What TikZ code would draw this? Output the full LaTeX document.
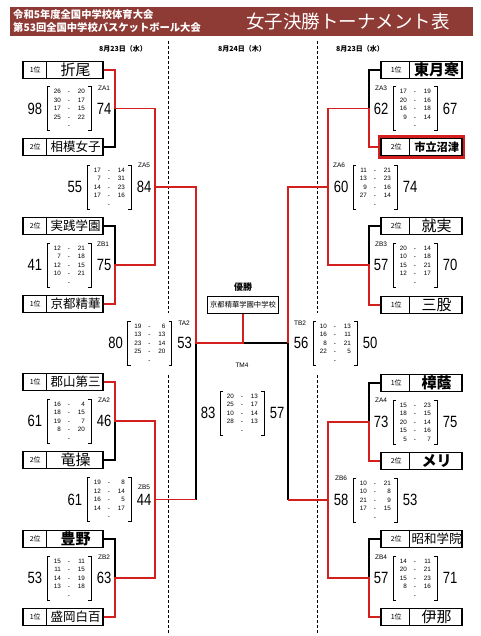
\documentclass[tikz,border=0pt]{standalone}
\usepackage{fontspec}
\setmainfont{Liberation Sans}
\newfontfamily\jp{Noto Sans CJK JP}
\usepackage{graphicx}
\usetikzlibrary{positioning,fit}
\definecolor{hdrred}{HTML}{8E3A35}
\definecolor{winred}{HTML}{D3201F}

\newcommand\namebig{\fontsize{15}{15}\selectfont}
\newcommand\namemid{\fontsize{11.2}{11.2}\selectfont}
\newcommand\namesmall{\fontsize{12.5}{12.5}\selectfont}

% team box, left column: name, y, rank, label
\newcommand\teamL[4]{%
  \node[teambox,minimum width=80pt] (#1) at (63,#2) {};
  \draw[boxline] ([xshift=24pt]#1.north west) -- ([xshift=24pt]#1.south west);
  \node[rankcell] (#1-rk) at ([xshift=13pt]#1.west) {#3};
  \node[teamname] (#1-nm) at ([xshift=-28pt]#1.east) {#4};
}
% team box, right column
\newcommand\teamR[4]{%
  \node[teambox,minimum width=81pt] (#1) at (421.5,#2) {};
  \draw[boxline] ([xshift=29pt]#1.north west) -- ([xshift=29pt]#1.south west);
  \node[rankcell] (#1-rk) at ([xshift=16pt]#1.west) {#3};
  \node[teamname] (#1-nm) at ([xshift=-26pt]#1.east) {#4};
}
% score block: name, x, y, left, right, periods
\newcommand\scoreset[6]{%
  \coordinate (#1) at (#2,#3);
  \draw[brkline] (#2-19,#3-22) -| (#2-22,#3+22) -- (#2-19,#3+22);
  \draw[brkline] (#2+19,#3-22) -| (#2+22,#3+22) -- (#2+19,#3+22);
  \node[bigscore] (#1-l) at (#2-34,#3) {\scalebox{0.8}[1]{#4}};
  \node[bigscore] (#1-r) at (#2+35,#3) {\scalebox{0.8}[1]{#5}};
  \foreach \a/\b [count=\i] in {#6} {
    \node[perscore,anchor=east] (#1-a\i) at (#2-8,#3-25.5+8.5*\i) {\a};
    \node[perscore] (#1-d\i) at (#2,#3-25.5+8.5*\i) {-};
    \node[perscore,anchor=east] (#1-b\i) at (#2+16,#3-25.5+8.5*\i) {\b};
  }
}

\begin{document}
\begin{tikzpicture}[x=1pt,y=-1pt,line join=miter]
\tikzset{teambox/.style={draw,line width=1.4pt,minimum height=17pt,inner sep=0pt},
  boxline/.style={line width=0.9pt},
  rankcell/.style={font=\jp\fontsize{7}{7}\selectfont,inner sep=0pt},
  teamname/.style={font=\jp,inner sep=0pt},
  bigscore/.style={font=\fontsize{16.3}{16}\selectfont,inner sep=0pt,text height=11.7pt,text depth=0pt},
  perscore/.style={font=\fontsize{6.3}{6}\selectfont,inner sep=0pt,text height=4.5pt,text depth=0pt},
  matchtag/.style={font=\fontsize{6.5}{6}\selectfont,inner sep=0pt},
  brkline/.style={line width=0.75pt},
  winline/.style={winred,line width=1.3pt},
  loseline/.style={black,line width=1.3pt},
  daysep/.style={line width=0.6pt,dash pattern=on 3pt off 2pt},
  hdrtxt/.style={font=\jp\bfseries\fontsize{10.3}{10.3}\selectfont,text=white,inner sep=0pt,anchor=west},
  datetxt/.style={font=\jp\bfseries\fontsize{7}{7}\selectfont,inner sep=0pt},
  champbox/.style={draw,line width=1pt,font=\jp\fontsize{7.3}{7.3}\selectfont,minimum width=71pt,minimum height=17pt,inner sep=0pt}}
\useasboundingbox (0,0) rectangle (480,636);

% header
\fill[hdrred] (10,7) rectangle (473,36);
\node[hdrtxt] (hdr1) at (13,15) {令和5年度全国中学校体育大会};
\node[hdrtxt] (hdr2) at (13,28) {第53回全国中学校バスケットボール大会};
\node[font=\jp\fontsize{18.5}{18.5}\selectfont,text=white,inner sep=0pt] (title) at (348,22) {女子決勝トーナメント表};

% days
\node[datetxt] (day1) at (123,49) {8月23日（水）};
\node[datetxt] (day2) at (242,49) {8月24日（木）};
\node[datetxt] (day3) at (360,49) {8月23日（水）};
\draw[daysep] (168,41) -- (168,313) (168,375) -- (168,634);
\draw[daysep] (317,41) -- (317,313) (317,375) -- (317,634);

% teams
\teamL{orio}{70}{1位}{\namebig 折尾}
\teamL{sagami}{147}{2位}{\namesmall 相模女子}
\teamL{jissen}{226}{2位}{\namesmall 実践学園}
\teamL{kyoto}{304}{1位}{\namesmall 京都精華}
\teamL{koriyama}{382}{1位}{\namesmall 郡山第三}
\teamL{ryuso}{460}{2位}{\namebig 竜操}
\teamL{toyono}{539}{2位}{\namebig\bfseries 豊野}
\teamL{morioka}{617}{1位}{\namesmall 盛岡白百}
\teamR{higashi}{70}{1位}{\namebig\bfseries 東月寒}
\teamR{numazu}{147}{2位}{\namemid\bfseries 市立沼津}
\teamR{shujitsu}{226}{2位}{\namebig 就実}
\teamR{mimata}{305}{1位}{\namebig 三股}
\teamR{shoin}{383}{1位}{\namebig\bfseries 樟蔭}
\teamR{meri}{461}{2位}{\namebig\bfseries メリ}
\teamR{showa}{539}{2位}{\namesmall 昭和学院}
\teamR{ina}{617}{1位}{\namebig 伊那}
\node[fit=(numazu),draw=winred,line width=2.4pt,inner sep=1.4pt] (numazuhl) {};

% champion
\node[champbox] (champ) at (243,304.5) {京都精華学園中学校};
\node[font=\jp\bfseries\fontsize{9}{9}\selectfont,inner sep=0pt,above=4pt of champ] (yusho) {優勝};

% match points
\coordinate (za1) at (115,108.5);
\coordinate (zb1) at (115,265);
\coordinate (za2) at (115,421);
\coordinate (zb2) at (115,578);
\coordinate (za5) at (155,187);
\coordinate (zb5) at (155,499.5);
\coordinate (ta2) at (196,343);
\coordinate (fin) at (243,343);
\coordinate (tb2) at (288,343);
\coordinate (za3) at (369,108.5);
\coordinate (zb3) at (369,265);
\coordinate (za4) at (369,422);
\coordinate (zb4) at (369,578);
\coordinate (za6) at (328,187);
\coordinate (zb6) at (328,500);

% losers
\draw[loseline] (sagami.east) -| (za1);
\draw[loseline] (jissen.east) -| (zb1);
\draw[loseline] (ryuso.east) -| (za2);
\draw[loseline] (toyono.east) -| (zb2);
\draw[loseline] (zb5 -| ta2) -- (ta2);
\draw[loseline] (fin) -- (tb2);
\draw[loseline] (higashi.west) -| (za3);
\draw[loseline] (shujitsu.west) -| (zb3);
\draw[loseline] (shoin.west) -| (za4);
\draw[loseline] (showa.west) -| (zb4);
\draw[loseline] (zb6 -| tb2) -- (tb2);
% winners
\draw[winline] (orio.east) -| (za1) -- (za1 -| za5) -- (zb1 -| za5) -- (zb1) |- (kyoto.east);
\draw[winline] (koriyama.east) -| (za2) -- (za2 -| zb5) -- (zb2 -| zb5) -- (zb2) |- (morioka.east);
\draw[winline] (za5) -- (za5 -| ta2) -- (ta2) -- (fin) -- (champ.south);
\draw[winline] (zb5) -- (zb5 -| ta2);
\draw[winline] (numazu.west) -| (za3) -- (za3 -| za6) -- (zb3 -| za6) -- (zb3) |- (mimata.west);
\draw[winline] (meri.west) -| (za4) -- (za4 -| zb6) -- (zb4 -| zb6) -- (zb4) |- (ina.west);
\draw[winline] (za6) -- (za6 -| tb2) -- (tb2);
\draw[winline] (zb6) -- (zb6 -| tb2);

% scores
\scoreset{za1s}{69}{108.5}{98}{74}{26/20,30/17,17/15,25/22,{}/{}}
\scoreset{zb1s}{69}{265}{41}{75}{12/21,7/18,12/15,10/21,{}/{}}
\scoreset{za2s}{69}{421}{61}{46}{16/4,18/15,19/7,8/20,{}/{}}
\scoreset{zb2s}{69}{578}{53}{63}{15/11,11/15,14/19,13/18,{}/{}}
\scoreset{za5s}{109}{187}{55}{84}{17/14,7/31,14/23,17/16,{}/{}}
\scoreset{zb5s}{109}{499.5}{61}{44}{19/8,12/14,16/5,14/17,{}/{}}
\scoreset{ta2s}{149.5}{343}{80}{53}{19/6,13/13,23/14,25/20,{}/{}}
\scoreset{tm4s}{242}{413}{83}{57}{20/13,25/17,10/14,28/13,{}/{}}
\scoreset{tb2s}{335}{343}{56}{50}{10/13,16/11,8/21,22/5,{}/{}}
\scoreset{za6s}{375}{187}{60}{74}{11/21,13/23,9/16,27/14,{}/{}}
\scoreset{zb6s}{375}{500}{58}{53}{10/21,10/8,21/9,17/15,{}/{}}
\scoreset{za3s}{415}{108.5}{62}{67}{17/19,20/16,16/18,9/14,{}/{}}
\scoreset{zb3s}{415}{265}{57}{70}{20/14,10/18,15/21,12/17,{}/{}}
\scoreset{za4s}{415}{422}{73}{75}{15/23,18/15,20/14,15/16,5/7}
\scoreset{zb4s}{415}{578}{57}{71}{14/11,20/21,15/23,8/16,{}/{}}

% match tags
\foreach \t/\x/\y in {ZA1/104/88,ZB1/103/244,ZA2/104/400,ZB2/104/557,ZA5/144/165,ZB5/144/487,
  TA2/184/323,TM4/242/365,TB2/300/323,ZA3/381/88,ZB3/381/244,ZA4/381/400,ZB4/381/557,ZA6/339/165,ZB6/341/478}
  \node[matchtag] (tag-\t) at (\x,\y) {\t};
\end{tikzpicture}
\end{document}
